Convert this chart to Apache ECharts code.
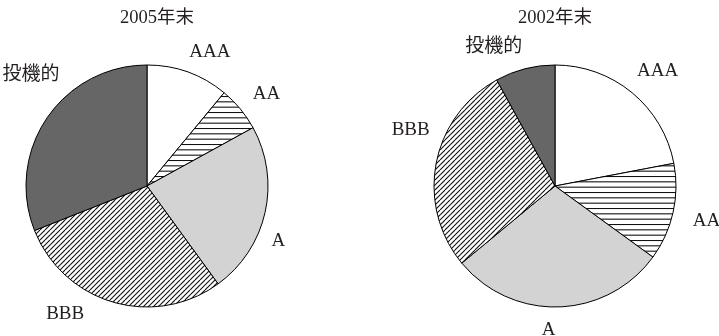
<!DOCTYPE html>
<html>
<head>
<meta charset="utf-8">
<script src="https://cdn.jsdelivr.net/npm/echarts@6/dist/echarts.min.js"></script>
<style>
  html, body { margin: 0; padding: 0; background: #fff; }
  #chart { width: 719px; height: 336px; }
</style>
</head>
<body>
<div id="chart"></div>
<script>
// Rating mix of the portfolio (%), clockwise from 12 o'clock
const ratings = ['AAA', 'AA', 'A', 'BBB', '投機的'];
const share2005 = [11, 6, 23, 29, 31];
const share2002 = [22, 13, 29, 28, 8];
const panelTitles = ['2005年末', '2002年末'];

const FONT = "'Liberation Serif', 'Noto Sans CJK JP', serif";
const INK = '#231f20';

// Horizontal hatch tile
function horizontalHatch() {
  const c = document.createElement('canvas');
  c.width = 8; c.height = 16;
  const g = c.getContext('2d');
  g.fillStyle = '#fff';
  g.fillRect(0, 0, c.width, c.height);
  g.strokeStyle = '#111';
  g.lineWidth = 1.1;
  [0.5, 5.83, 11.17].forEach(y => {
    g.beginPath(); g.moveTo(0, y); g.lineTo(c.width, y); g.stroke();
  });
  return { image: c, repeat: 'repeat' };
}

// Diagonal "/" hatch tile
function diagonalHatch() {
  const c = document.createElement('canvas');
  c.width = 10; c.height = 10;
  const g = c.getContext('2d');
  g.fillStyle = '#fff';
  g.fillRect(0, 0, c.width, c.height);
  g.strokeStyle = '#111';
  g.lineWidth = 1.1;
  for (let x0 = -10; x0 <= 10; x0 += 5) {
    g.beginPath(); g.moveTo(x0, 10); g.lineTo(x0 + 10, 0); g.stroke();
  }
  return { image: c, repeat: 'repeat' };
}

const fills = ['#ffffff', horizontalHatch(), '#d3d3d3', diagonalHatch(), '#666666'];

// Hand-tuned nudges that move each rating label off the ring's mid-angle
const nudge2005 = [[12, 7], [4, 4], [-15, 22], [-40, -16], [8, -27]];
const nudge2002 = [[7, 1], [5, 2], [-11, -6], [3, -28], [-24, 6]];

function panel(values, center, nudges) {
  const slices = {
    type: 'pie',
    center: center,
    radius: 121,
    startAngle: 90,
    clockwise: true,
    silent: true,
    animation: false,
    label: { show: false },
    labelLine: { show: false },
    itemStyle: { borderColor: '#000', borderWidth: 1 },
    data: ratings.map((name, i) => ({
      name, value: values[i], itemStyle: { color: fills[i] }
    }))
  };
  const labels = {
    type: 'pie',
    center: center,
    radius: [130, 164],
    startAngle: 90,
    clockwise: true,
    silent: true,
    animation: false,
    avoidLabelOverlap: false,
    minShowLabelAngle: 0,
    itemStyle: { color: 'rgba(0,0,0,0)', borderWidth: 0 },
    labelLine: { show: false },
    label: {
      show: true,
      position: 'inside',
      formatter: '{b}',
      color: INK,
      fontFamily: FONT,
      fontSize: 19,
      overflow: 'none'
    },
    data: ratings.map((name, i) => ({
      name, value: values[i], label: { offset: nudges[i] }
    }))
  };
  return [slices, labels];
}

const titleStyle = { fontFamily: FONT, fontSize: 18.5, fontWeight: 'normal', color: INK };

const chart = echarts.init(document.getElementById('chart'), null, { renderer: 'canvas' });
chart.setOption({
  backgroundColor: '#ffffff',
  animation: false,
  title: [
    { text: panelTitles[0], left: 152, top: 4, textAlign: 'center', textStyle: titleStyle },
    { text: panelTitles[1], left: 550, top: 4, textAlign: 'center', textStyle: titleStyle }
  ],
  series: [
    ...panel(share2005, [147, 186], nudge2005),
    ...panel(share2002, [555, 186], nudge2002)
  ]
});
</script>
</body>
</html>
